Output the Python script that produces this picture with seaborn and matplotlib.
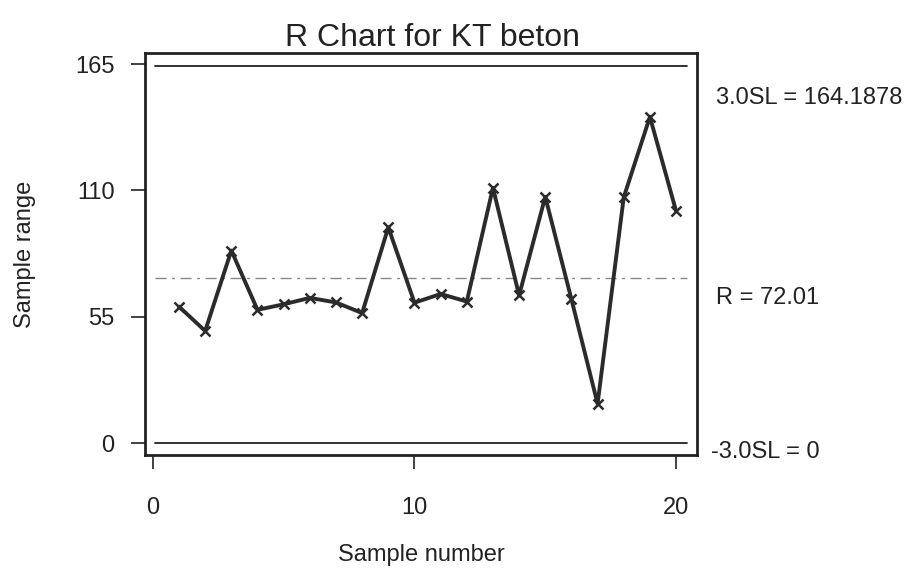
import matplotlib
matplotlib.use("Agg")
import matplotlib.pyplot as plt
import seaborn as sns
import pandas as pd

sample = list(range(1, 21))
ranges = [59.4, 48.8, 83.8, 58.0, 60.4, 63.2, 61.2, 56.6, 93.9, 61.1,
          64.9, 61.6, 111.1, 64.3, 107.2, 62.6, 17.1, 107.0, 142.0, 101.0]
ucl = 164.1878
center = 72.01
lcl = 0.0
ucl_label = "3.0SL = 164.1878"
center_label = "R = 72.01"
lcl_label = "-3.0SL = 0"
yticks = [0, 55, 110, 165]
xticks = [0, 10, 20]

sns.set_theme(style="white")
plt.rcParams['font.family'] = ['Liberation Sans', 'DejaVu Sans']

df = pd.DataFrame({"Sample number": sample, "Sample range": ranges})

fig = plt.figure(figsize=(9.15, 5.69), dpi=100)
ax = fig.add_axes([145/915, 1-455/569, (697-145)/915, (455-53)/569])

ax.plot([0.08, 20.4], [ucl, ucl], color="#222222", lw=1.3)
ax.plot([0.08, 20.4], [lcl, lcl], color="#222222", lw=1.3)
ax.plot([0.08, 20.4], [center, center], color="#888888", lw=1.0,
        linestyle=(0, (8, 4, 2, 4)))

sns.lineplot(data=df, x="Sample number", y="Sample range", ax=ax,
             color="#2b2b2b", linewidth=2.8, marker="x", markersize=7,
             markeredgewidth=1.8, markeredgecolor="#2b2b2b")

ax.set_xlim(-0.3, 20.8)
ax.set_ylim(-5.2, 169.8)
ax.set_xticks(xticks)
ax.set_yticks(yticks)
ax.tick_params(axis="both", which="both", direction="out", length=10,
               width=1.2, colors="#222222", labelsize=17,
               bottom=True, left=True)
ax.tick_params(axis="x", pad=20)
ax.tick_params(axis="y", pad=12)
for s in ax.spines.values():
    s.set_color("#222222")
    s.set_linewidth(2.0)

ax.set_xlabel("Sample number", fontsize=17, labelpad=18, color="#222222")
ax.set_ylabel("Sample range", fontsize=17, labelpad=28, color="#222222")
ax.set_title("R Chart for KT beton", fontsize=23, color="#222222", pad=4,
             x=0.52)

ax.text(1.035, ucl - 14, ucl_label, transform=ax.get_yaxis_transform(),
        fontsize=17, va="center", ha="left", color="#222222")
ax.text(1.035, center - 9, center_label, transform=ax.get_yaxis_transform(),
        fontsize=17, va="center", ha="left", color="#222222")
ax.text(1.025, lcl - 4, lcl_label, transform=ax.get_yaxis_transform(),
        fontsize=17, va="center", ha="left", color="#222222")

fig.savefig("out.png", dpi=100, facecolor="white")
